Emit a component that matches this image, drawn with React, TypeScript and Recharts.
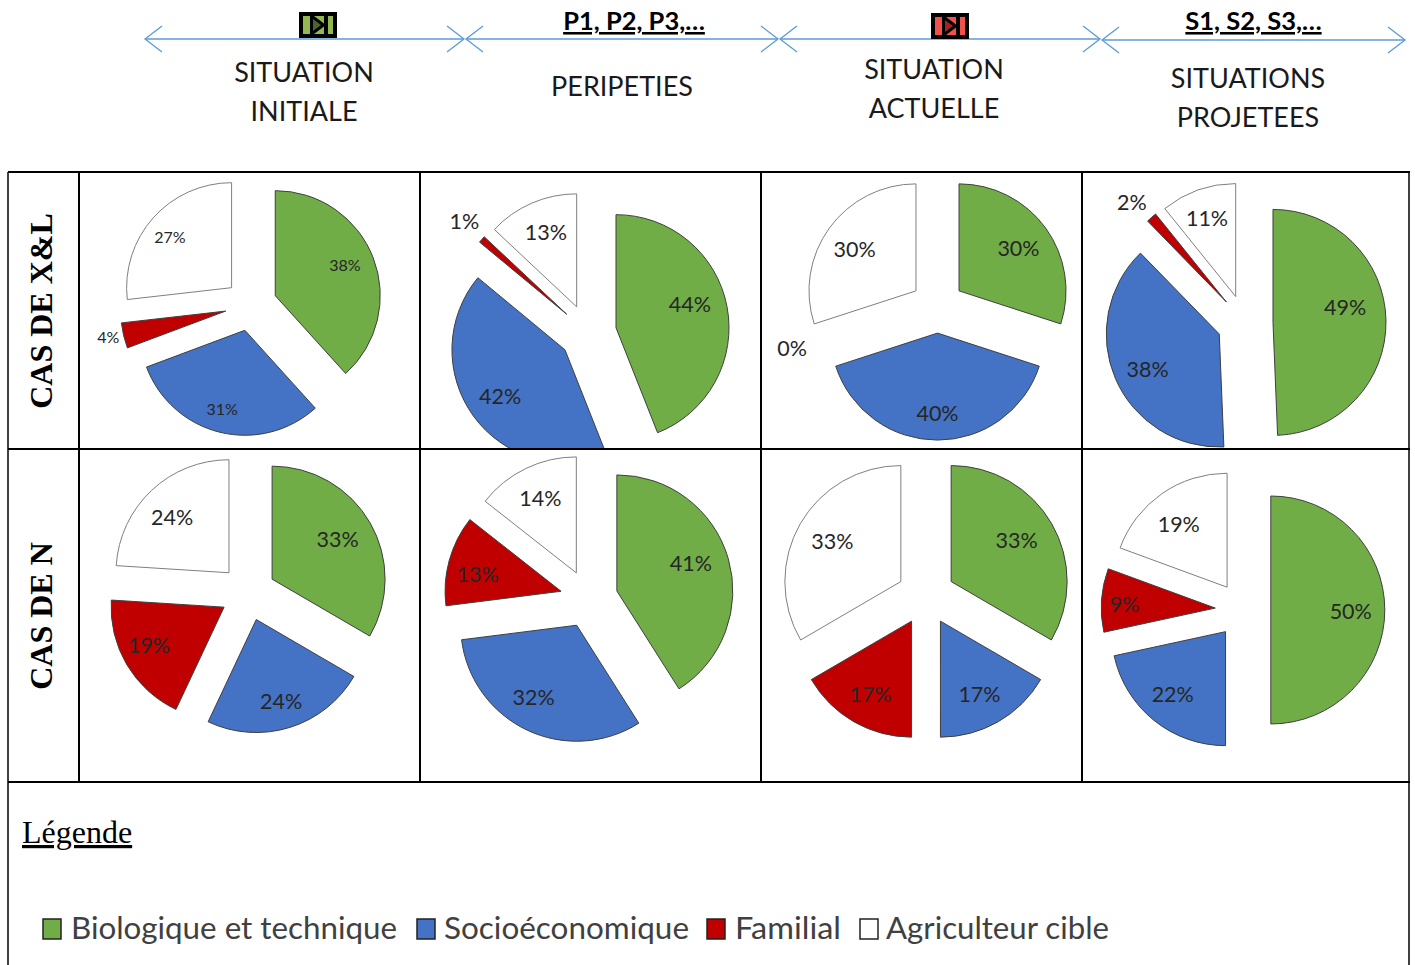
import { Pie, PieChart, Sector } from "recharts"

const categories = ["Biologique et technique", "Socioéconomique", "Familial", "Agriculteur cible"]
const biologique = [38.3, 44, 30, 49.4, 33.4, 41, 33.4, 50]
const socioeconomique = [31, 42, 40, 38.4, 23.6, 32, 16.6, 21.6]
const familial = [3.9, 1, 0, 1.5, 19, 12.6, 16.6, 9]
const agriculteur = [26.8, 13, 30, 10.8, 24, 14.4, 33.4, 19.4]
const sliceColors = ["#70AD47", "#4472C4", "#C00000", "#FFFFFF"]

const columns = ["SITUATION\nINITIALE", "PERIPETIES", "SITUATION\nACTUELLE", "SITUATIONS\nPROJETEES"]
const rows = ["CAS DE X&L", "CAS DE N"]

// pie placement, in page pixels: cell box, centre, radius, explosion, label size
const cells = [
  { x: 80, y: 173, w: 339, h: 275, cx: 251, cy: 305, r: 105, explode: 26, font: 16 },
  { x: 421, y: 173, w: 339, h: 275, cx: 588, cy: 333, r: 113, explode: 28.5, font: 21.5 },
  { x: 762, y: 173, w: 319, h: 275, cx: 937.5, cy: 306.5, r: 107, explode: 26.6, font: 21.5 },
  { x: 1083, y: 173, w: 325, h: 275, cx: 1245, cy: 323, r: 113, explode: 28, font: 21.5 },
  { x: 80, y: 450, w: 339, h: 331, cx: 248, cy: 593, r: 113, explode: 27.8, font: 21.5 },
  { x: 421, y: 450, w: 339, h: 331, cx: 589, cy: 599, r: 116, explode: 29, font: 21.5 },
  { x: 762, y: 450, w: 319, h: 331, cx: 926, cy: 596, r: 116, explode: 29, font: 21.5 },
  { x: 1083, y: 450, w: 325, h: 331, cx: 1243, cy: 610, r: 114, explode: 27.8, font: 21.5 },
]

// hand nudges for the percent labels, one [dx, dy] per slice
const labelNudges = [
  [[0, -4], [-5, 6], [2, -3], [-6, -2]],
  [[-5, -9], [0, -1], [-3, -6], [1, -1]],
  [[-2, 2], [0, 4], [-1, -5], [0, 3]],
  [[-8, -14], [2, 3], [-7, -1], [-2, -3]],
  [[-4, 0], [1, 5], [-6, -3], [-2, 3]],
  [[-5, -5], [-8, -3], [-4, 5], [0, -1]],
  [[-6, -1], [-2, 1], [0, 1], [3, 0]],
  [[-1, 1], [-2, -1], [-10, 2], [-2, 3]],
]

const SANS = "Lato, sans-serif"
const SERIF = "'Liberation Serif', serif"
const RAD = Math.PI / 180

function ExplodedPie({ index }: { index: number }) {
  const cell = cells[index]
  const data = categories.map((name, i) => ({
    name,
    value: [biologique, socioeconomique, familial, agriculteur][i][index],
    fill: sliceColors[i],
  }))

  const renderSlice = (props: any) => {
    const dx = cell.explode * Math.cos(props.midAngle * RAD)
    const dy = -cell.explode * Math.sin(props.midAngle * RAD)
    return (
      <Sector
        cx={props.cx + dx}
        cy={props.cy + dy}
        innerRadius={0}
        outerRadius={props.outerRadius}
        startAngle={props.startAngle}
        endAngle={props.endAngle}
        fill={props.fill}
        stroke={props.fill === "#FFFFFF" ? "#7F7F7F" : "#3F3F3F"}
        strokeWidth={1}
      />
    )
  }

  const renderLabel = (props: any) => {
    // thin slices carry their label outside, as Excel's best fit does
    const k = props.value <= 4 ? 1.17 : 0.71
    const dist = cell.explode + k * cell.r
    const [nx, ny] = labelNudges[index][props.index]
    return (
      <text
        x={props.cx + dist * Math.cos(props.midAngle * RAD) + nx}
        y={props.cy - dist * Math.sin(props.midAngle * RAD) + ny}
        textAnchor="middle"
        dominantBaseline="central"
        fontFamily={SANS}
        fontSize={cell.font}
        fill="#262626"
      >
        {Math.round(props.value)}%
      </text>
    )
  }

  return (
    <div style={{ position: "absolute", left: cell.x, top: cell.y, width: cell.w, height: cell.h, overflow: "hidden" }}>
      <PieChart width={cell.w} height={cell.h} margin={{ top: 0, right: 0, bottom: 0, left: 0 }}>
        <Pie
          data={data}
          dataKey="value"
          nameKey="name"
          cx={cell.cx - cell.x}
          cy={cell.cy - cell.y}
          innerRadius={0}
          outerRadius={cell.r}
          startAngle={90}
          endAngle={-270}
          isAnimationActive={false}
          shape={renderSlice}
          label={renderLabel}
          labelLine={false}
        />
      </PieChart>
    </div>
  )
}

const arrows = [
  [145, 464, 39],
  [466, 778, 39],
  [780, 1100, 39],
  [1102, 1405, 40],
]

function TopBand() {
  return (
    <svg width={1415} height={170} style={{ position: "absolute", left: 0, top: 0 }}>
      {arrows.map(([a, b, y]) => (
        <g key={a} fill="none" stroke="#5B9BD5" strokeWidth={1.3}>
          <line x1={a} x2={b} y1={y} y2={y} />
          <polyline points={`${a + 17},${y - 13} ${a},${y} ${a + 17},${y + 13}`} />
          <polyline points={`${b - 17},${y - 13} ${b},${y} ${b - 17},${y + 13}`} />
        </g>
      ))}
      <MediaIcon x={299} y={12} color="#92B84E" dark="#4F6228" />
      <MediaIcon x={931} y={13} color="#F2504B" dark="#A02520" />
      <text x={634} y={30} textAnchor="middle" fontFamily={SANS} fontWeight={700} fontSize={25.5} textDecoration="underline">
        P1, P2, P3,…
      </text>
      <text x={1253.5} y={30} textAnchor="middle" fontFamily={SANS} fontWeight={700} fontSize={25.5} textDecoration="underline">
        S1, S2, S3,…
      </text>
      {[
        [columns[0], 304, 82],
        [columns[1], 622, 96],
        [columns[2], 934, 79],
        [columns[3], 1248, 88],
      ].map(([label, x, y]) =>
        String(label)
          .split("\n")
          .map((line, i) => (
            <text key={line} x={Number(x)} y={Number(y) + i * 39} textAnchor="middle" fontFamily={SANS} fontSize={27} fill="#1a1a1a">
              {line}
            </text>
          )),
      )}
    </svg>
  )
}

function MediaIcon({ x, y, color, dark }: { x: number; y: number; color: string; dark: string }) {
  return (
    <g>
      <rect x={x} y={y} width={38} height={26} fill="#000" />
      <rect x={x + 4} y={y + 4} width={30} height={18} fill={color} />
      <path d={`M${x + 11},${y + 1} L${x + 27},${y + 13} L${x + 11},${y + 25} Z`} fill="#000" />
      <path d={`M${x + 14},${y + 7} L${x + 22},${y + 13} L${x + 14},${y + 19} Z`} fill={dark} />
      <rect x={x + 25} y={y + 2} width={4} height={22} fill="#000" />
    </g>
  )
}

const hLines = [
  [8, 1410, 172],
  [8, 1410, 449],
  [8, 1410, 782],
]
const vLines = [
  [8, 172, 965],
  [79, 172, 782],
  [420, 172, 782],
  [761, 172, 782],
  [1082, 172, 782],
  [1409, 172, 965],
]

const legendSwatches = [43, 417, 707, 860]
const legendTexts = [71, 444, 735, 886]
const legendWidths = [326, 245, 106, 223]

export default function App() {
  return (
    <div style={{ position: "absolute", left: 0, top: 0, width: 1415, height: 965, background: "#fff", overflow: "hidden" }}>
      <TopBand />
      {cells.map((_, i) => (
        <ExplodedPie key={i} index={i} />
      ))}
      <svg width={1415} height={965} style={{ position: "absolute", left: 0, top: 0, pointerEvents: "none" }}>
        {hLines.map(([a, b, y]) => (
          <line key={y} x1={a} x2={b} y1={y} y2={y} stroke="#000" strokeWidth={2} />
        ))}
        {vLines.map(([x, a, b]) => (
          <line key={x} x1={x} x2={x} y1={a} y2={b} stroke="#000" strokeWidth={x === 8 || x === 1409 ? 1.5 : 2} />
        ))}
        <text transform="translate(52,311) rotate(-90)" textAnchor="middle" fontFamily={SERIF} fontWeight={700} fontSize={32}>
          {rows[0]}
        </text>
        <text transform="translate(52,616) rotate(-90)" textAnchor="middle" fontFamily={SERIF} fontWeight={700} fontSize={32}>
          {rows[1]}
        </text>
        <text x={22} y={843} fontFamily={SERIF} fontSize={32} textDecoration="underline">
          Légende
        </text>
        {categories.map((name, i) => (
          <g key={name}>
            <rect
              x={legendSwatches[i]}
              y={919}
              width={18}
              height={20}
              fill={sliceColors[i]}
              stroke="#222"
              strokeWidth={1.5}
            />
            <text
              x={legendTexts[i]}
              y={939}
              fontFamily={SANS}
              fontSize={31}
              fill="#404040"
              textLength={legendWidths[i]}
              lengthAdjust="spacingAndGlyphs"
            >
              {name}
            </text>
          </g>
        ))}
      </svg>
    </div>
  )
}
